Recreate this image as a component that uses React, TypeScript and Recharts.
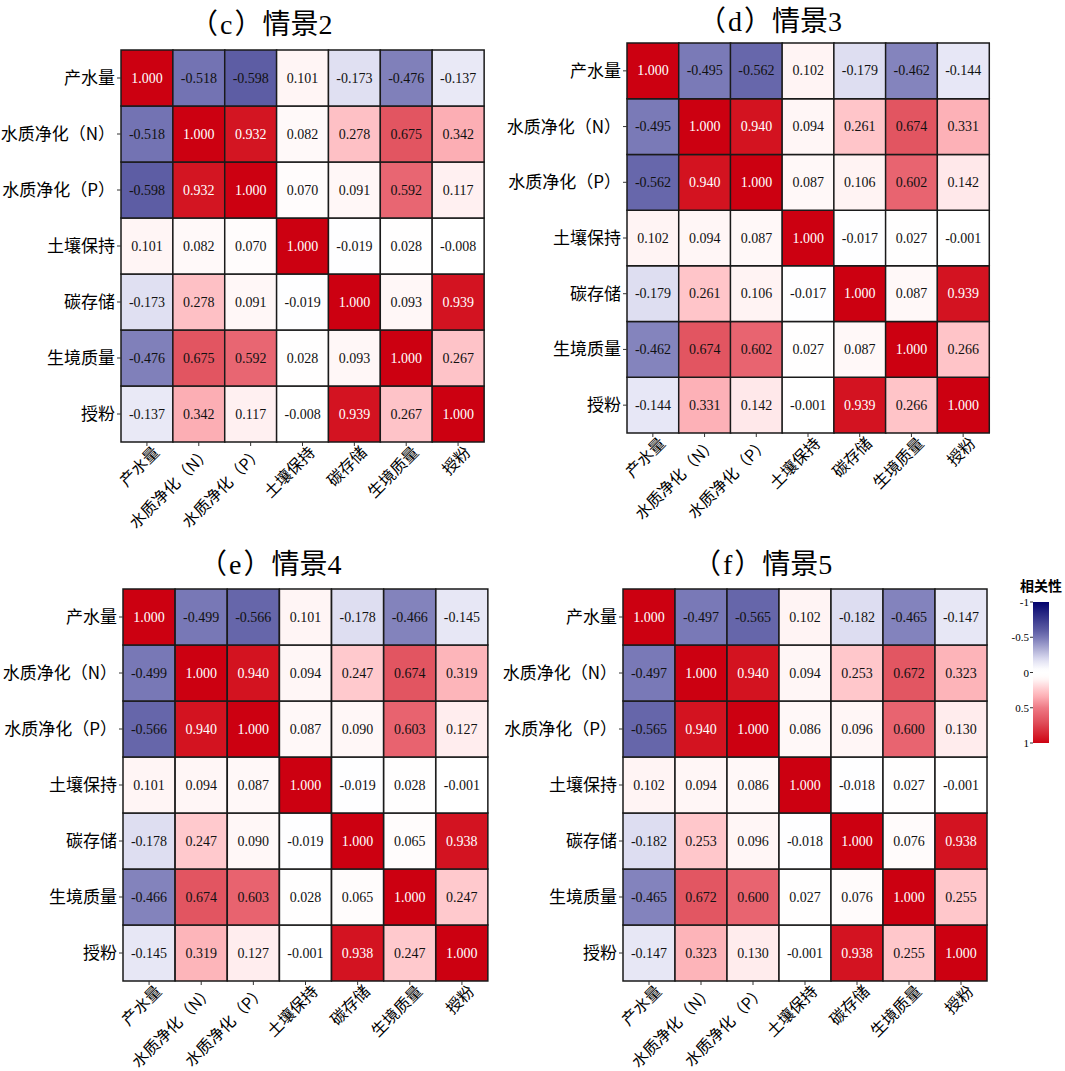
import React from "react";
import { BarChart, Bar, XAxis, YAxis, Cell, LabelList } from "recharts";

const LABELS = ["产水量", "水质净化（N）", "水质净化（P）", "土壤保持", "碳存储", "生境质量", "授粉"];

const SCENE2 = [
  [1.0, -0.518, -0.598, 0.101, -0.173, -0.476, -0.137],
  [-0.518, 1.0, 0.932, 0.082, 0.278, 0.675, 0.342],
  [-0.598, 0.932, 1.0, 0.07, 0.091, 0.592, 0.117],
  [0.101, 0.082, 0.07, 1.0, -0.019, 0.028, -0.008],
  [-0.173, 0.278, 0.091, -0.019, 1.0, 0.093, 0.939],
  [-0.476, 0.675, 0.592, 0.028, 0.093, 1.0, 0.267],
  [-0.137, 0.342, 0.117, -0.008, 0.939, 0.267, 1.0],
];

const SCENE3 = [
  [1.0, -0.495, -0.562, 0.102, -0.179, -0.462, -0.144],
  [-0.495, 1.0, 0.94, 0.094, 0.261, 0.674, 0.331],
  [-0.562, 0.94, 1.0, 0.087, 0.106, 0.602, 0.142],
  [0.102, 0.094, 0.087, 1.0, -0.017, 0.027, -0.001],
  [-0.179, 0.261, 0.106, -0.017, 1.0, 0.087, 0.939],
  [-0.462, 0.674, 0.602, 0.027, 0.087, 1.0, 0.266],
  [-0.144, 0.331, 0.142, -0.001, 0.939, 0.266, 1.0],
];

const SCENE4 = [
  [1.0, -0.499, -0.566, 0.101, -0.178, -0.466, -0.145],
  [-0.499, 1.0, 0.94, 0.094, 0.247, 0.674, 0.319],
  [-0.566, 0.94, 1.0, 0.087, 0.09, 0.603, 0.127],
  [0.101, 0.094, 0.087, 1.0, -0.019, 0.028, -0.001],
  [-0.178, 0.247, 0.09, -0.019, 1.0, 0.065, 0.938],
  [-0.466, 0.674, 0.603, 0.028, 0.065, 1.0, 0.247],
  [-0.145, 0.319, 0.127, -0.001, 0.938, 0.247, 1.0],
];

const SCENE5 = [
  [1.0, -0.497, -0.565, 0.102, -0.182, -0.465, -0.147],
  [-0.497, 1.0, 0.94, 0.094, 0.253, 0.672, 0.323],
  [-0.565, 0.94, 1.0, 0.086, 0.096, 0.6, 0.13],
  [0.102, 0.094, 0.086, 1.0, -0.018, 0.027, -0.001],
  [-0.182, 0.253, 0.096, -0.018, 1.0, 0.076, 0.938],
  [-0.465, 0.672, 0.6, 0.027, 0.076, 1.0, 0.255],
  [-0.147, 0.323, 0.13, -0.001, 0.938, 0.255, 1.0],
];

const LEGEND_TICKS = [-1, -0.5, 0, 0.5, 1];

// colour ramp stops: [|r|, r, g, b]
const POS_STOPS = [
  [0, 255, 255, 255],
  [0.07, 255, 252, 252],
  [0.1, 255, 245, 245],
  [0.15, 255, 230, 232],
  [0.25, 255, 200, 204],
  [0.35, 252, 172, 178],
  [0.5, 238, 122, 133],
  [0.6, 232, 100, 112],
  [0.7, 224, 80, 92],
  [0.95, 210, 16, 30],
  [1, 204, 0, 17],
];
const NEG_STOPS = [
  [0, 255, 255, 255],
  [0.05, 252, 252, 254],
  [0.15, 230, 230, 245],
  [0.2, 216, 216, 238],
  [0.5, 120, 120, 182],
  [0.6, 92, 92, 164],
  [1, 2, 2, 108],
];

function cellColor(v: number) {
  const stops = v >= 0 ? POS_STOPS : NEG_STOPS;
  const a = Math.min(1, Math.abs(v));
  for (let i = 1; i < stops.length; i++) {
    if (a <= stops[i][0]) {
      const s0 = stops[i - 1];
      const s1 = stops[i];
      const t = (a - s0[0]) / (s1[0] - s0[0]);
      const c = [1, 2, 3].map((k) => Math.round(s0[k] + (s1[k] - s0[k]) * t));
      return `rgb(${c[0]},${c[1]},${c[2]})`;
    }
  }
  return "rgb(204,0,17)";
}

const FONT = "'Liberation Serif', 'Noto Sans CJK SC', serif";
const CJK = "'Noto Sans CJK SC', 'Liberation Serif', serif";
const ROW_ORDER = [6, 5, 4, 3, 2, 1, 0]; // bottom to top in the stack

function XTick(props: any) {
  const { x, y, payload } = props;
  return (
    <g transform={`translate(${x + 5},${y - 3})`}>
      <text
        transform="rotate(-45)"
        textAnchor="end"
        dy="0.75em"
        fontSize={16}
        fontFamily={CJK}
        fill="#000"
      >
        {payload.value}
      </text>
    </g>
  );
}

// "（c）情景2" -> parens drawn full width like the original
function Title({ letter, name }: { letter: string; name: string }) {
  const paren = { display: "inline-block", width: 28, fontFamily: CJK } as React.CSSProperties;
  return (
    <>
      <span style={{ ...paren, textAlign: "right" }}>（</span>
      <span style={{ padding: "0 2px" }}>{letter}</span>
      <span style={{ ...paren, textAlign: "left" }}>）</span>
      <span>{name}</span>
    </>
  );
}

type PanelProps = {
  letter: string;
  name: string;
  matrix: number[][];
  left: number;
  top: number;
  width: number;
  height: number;
  yAxisWidth: number;
  gridTop: number;
  xAxisHeight: number;
  right: number;
  titleLeft: number;
  titleTop: number;
};

function HeatPanel(p: PanelProps) {
  const data = LABELS.map((name, j) => {
    const row: Record<string, string | number> = { name };
    LABELS.forEach((_, k) => {
      row[`r${k}`] = 1;
      row[`v${k}`] = p.matrix[k][j];
    });
    return row;
  });

  return (
    <>
      <div
        style={{
          position: "absolute",
          left: p.titleLeft,
          top: p.titleTop,
          fontSize: 28,
          lineHeight: "28px",
          fontFamily: FONT,
          color: "#000",
          whiteSpace: "nowrap",
        }}
      >
        <Title letter={p.letter} name={p.name} />
      </div>
      <div style={{ position: "absolute", left: p.left, top: p.top }}>
        <BarChart
          width={p.width}
          height={p.height}
          data={data}
          margin={{ top: p.gridTop, right: p.right, left: 0, bottom: 0 }}
          barCategoryGap={0}
          barGap={0}
        >
          <XAxis
            dataKey="name"
            type="category"
            interval={0}
            height={p.xAxisHeight}
            axisLine={false}
            tickLine={{ stroke: "#333" }}
            tickSize={4}
            tick={<XTick />}
          />
          <YAxis
            type="number"
            domain={[0, 7]}
            ticks={[0.5, 1.5, 2.5, 3.5, 4.5, 5.5, 6.5]}
            tickFormatter={(v: number) => LABELS[Math.round(6.5 - v)]}
            width={p.yAxisWidth}
            axisLine={false}
            tickLine={{ stroke: "#333" }}
            tickSize={4}
            tick={{ fontSize: 17, fill: "#000", fontFamily: CJK }}
          />
          {ROW_ORDER.map((k) => (
            <Bar
              key={k}
              dataKey={`r${k}`}
              stackId="s"
              stroke="#1a1a1a"
              strokeWidth={1.5}
              isAnimationActive={false}
            >
              {LABELS.map((_, j) => (
                <Cell key={j} fill={cellColor(p.matrix[k][j])} />
              ))}
              <LabelList
                dataKey={`v${k}`}
                content={(lp: any) => {
                  const vb = lp.viewBox || {};
                  const x = lp.x ?? vb.x;
                  const y = lp.y ?? vb.y;
                  const w = lp.width ?? vb.width;
                  const h = lp.height ?? vb.height;
                  const v = Number(lp.value);
                  return (
                    <text
                      x={x + w / 2}
                      y={y + h / 2}
                      textAnchor="middle"
                      dominantBaseline="central"
                      fontSize={14}
                      fontFamily={FONT}
                      fill={v > 0.8 ? "#fff" : "#111"}
                    >
                      {v.toFixed(3)}
                    </text>
                  );
                }}
              />
            </Bar>
          ))}
        </BarChart>
      </div>
    </>
  );
}

function ColorBar() {
  const x0 = 1033;
  const y0 = 602;
  const w = 16;
  const h = 141;
  const gradStops = [];
  for (let i = 0; i <= 40; i++) {
    const v = -1 + i / 20;
    gradStops.push(<stop key={i} offset={`${(i / 40) * 100}%`} stopColor={cellColor(v)} />);
  }
  return (
    <svg
      style={{ position: "absolute", left: 0, top: 0 }}
      width={1065}
      height={1071}
      pointerEvents="none"
    >
      <defs>
        <linearGradient id="cbar" x1="0" y1="0" x2="0" y2="1">
          {gradStops}
        </linearGradient>
      </defs>
      <text
        x={x0 + w / 2}
        y={591}
        textAnchor="middle"
        fontSize={14}
        fontWeight="bold"
        fontFamily={CJK}
        fill="#000"
      >
        相关性
      </text>
      <rect x={x0} y={y0} width={w} height={h} fill="url(#cbar)" />
      {LEGEND_TICKS.map((t) => {
        const ty = y0 + ((t + 1) / 2) * h;
        return (
          <g key={t}>
            <line x1={x0 - 3} x2={x0} y1={ty} y2={ty} stroke="#333" />
            <text
              x={x0 - 4}
              y={ty}
              textAnchor="end"
              dominantBaseline="central"
              fontSize={11}
              fontFamily={FONT}
              fill="#000"
            >
              {t}
            </text>
          </g>
        );
      })}
    </svg>
  );
}

export default function App() {
  return (
    <div
      style={{
        position: "absolute",
        left: 0,
        top: 0,
        width: 1065,
        height: 1071,
        background: "#fff",
        fontFamily: FONT,
      }}
    >
      <style>{`.recharts-surface { overflow: visible; }`}</style>
      <HeatPanel
        letter="c"
        name="情景2"
        matrix={SCENE2}
        left={0}
        top={0}
        width={530}
        height={540}
        yAxisWidth={121}
        gridTop={50}
        xAxisHeight={98}
        right={46}
        titleLeft={190}
        titleTop={8}
      />
      <HeatPanel
        letter="d"
        name="情景3"
        matrix={SCENE3}
        left={500}
        top={0}
        width={565}
        height={540}
        yAxisWidth={127}
        gridTop={43}
        xAxisHeight={107}
        right={76}
        titleLeft={698}
        titleTop={5}
      />
      <HeatPanel
        letter="e"
        name="情景4"
        matrix={SCENE4}
        left={0}
        top={540}
        width={530}
        height={531}
        yAxisWidth={123}
        gridTop={49}
        xAxisHeight={90}
        right={42}
        titleLeft={199}
        titleTop={548}
      />
      <HeatPanel
        letter="f"
        name="情景5"
        matrix={SCENE5}
        left={500}
        top={540}
        width={565}
        height={531}
        yAxisWidth={123}
        gridTop={49}
        xAxisHeight={90}
        right={78}
        titleLeft={693}
        titleTop={548}
      />
      <ColorBar />
    </div>
  );
}
